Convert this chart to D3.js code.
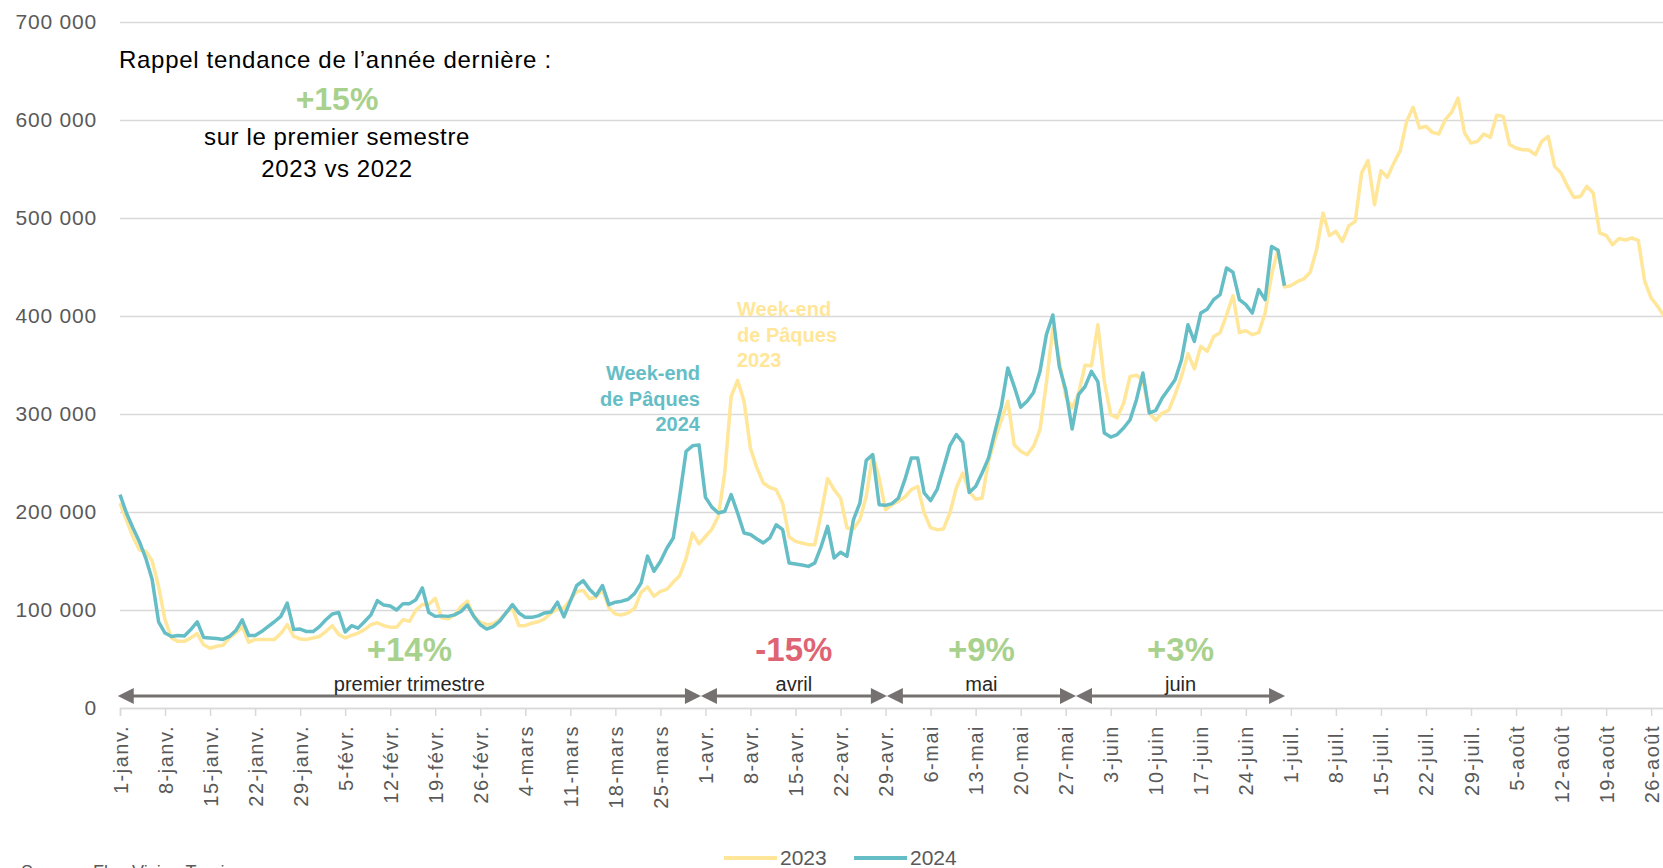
<!DOCTYPE html>
<html>
<head>
<meta charset="utf-8">
<script src="https://cdn.jsdelivr.net/npm/d3@7"></script>
<style>
  body { margin: 0; background: #fff; overflow: hidden; }
  text { font-family: "Liberation Sans", Arial, sans-serif; }
</style>
</head>
<body>
<script>

// visiteurs par jour (en milliers), jour 0 = 1er janvier
const visits2023 = [
  209, 192, 175, 161.5, 160, 150, 124, 90, 71.5, 68, 68, 71.5, 76, 64.5, 61, 63, 64, 71.5, 76.5, 83,
  67, 70, 70, 70, 70, 76, 85, 73, 70.5, 70, 71.5, 73, 78, 84, 75, 71.5, 74, 76.5, 80, 85,
  87, 84, 82.5, 82.5, 90, 88.5, 100, 105.5, 105.5, 112, 92, 91, 95, 103.5, 109, 93.5, 87.5, 85, 86, 90,
  97, 102, 84, 84, 86.5, 88, 91, 97, 101, 102, 110.5, 119, 120, 111.5, 113, 121, 102, 96, 95, 97,
  102, 118, 123.5, 114, 119, 121, 128.5, 135, 153, 178.5, 167.5, 175, 182.5, 195.6, 239.8, 318, 334.4, 313, 265, 245,
  229.6, 225, 222.8, 209, 174.5, 170, 168.4, 166.7, 166.7, 199, 234, 222.8, 214.3, 183.7, 182.7, 192, 216, 258.5, 234.7, 202.4,
  207.5, 210.9, 215.3, 222.8, 226, 199, 184, 182, 182.7, 199, 224.5, 239.8, 221, 213, 214.3, 251.7, 273.8, 294, 313, 268.7,
  262, 258.5, 267, 284, 331.6, 387.7, 355.4, 318, 306, 321, 349.7, 349.3, 391, 333.3, 299.3, 296, 311, 338.4, 339.5, 335,
  301, 293.5, 301, 303.7, 319.7, 338.4, 361.6, 346, 369, 364, 379, 383, 401, 420.7, 383, 385, 381, 383, 403, 442,
  467.7, 429.6, 431, 435, 437.8, 444.6, 467.7, 505, 482, 486.4, 476, 492, 496.6, 546, 558.5, 513.6, 548.3, 541.5, 556, 568.7,
  598.6, 613, 591.8, 593.5, 587.4, 585.7, 600.3, 608, 622.4, 586.7, 576.5, 578.2, 585.7, 582.3, 604.8, 603.7, 574.8, 571.4, 569.7, 569.4,
  564.6, 578.2, 583.3, 552.7, 546, 532.3, 521, 522, 532.3, 525.5, 484.7, 482.3, 472.8, 479, 477.6, 479.6, 477.2, 435.4, 418.4, 409.9,
  400
];

const visits2024 = [
  217.7, 199, 184, 170, 153, 131, 88, 76.5, 73, 74, 73.5, 80, 88, 72, 71.5, 71, 70, 73, 79, 90,
  74, 74, 78, 83, 88, 93.5, 107, 80, 80.5, 78, 78, 83, 90, 96, 97.5, 77.5, 84, 81.5, 88, 95,
  109.5, 105, 104, 100, 106.5, 106.5, 110.5, 122.5, 97.5, 93.5, 94, 93.5, 95, 98.5, 105, 93.5, 85, 80.5, 83, 88.5,
  97, 105.5, 97, 92.5, 92.5, 94, 97, 98, 108, 93, 109, 125, 130, 121, 114.5, 125, 105.5, 108, 109, 111,
  117, 127.5, 155, 139.5, 149.5, 163, 173.5, 216, 262, 267.5, 268.5, 215, 205, 199, 200.7, 217.7, 199, 178.6, 177, 172.5,
  168.4, 173.5, 187, 182, 148, 147, 146, 144.5, 148, 165, 185.4, 153, 159, 154.8, 192, 209, 252.7, 258.5, 207.5, 206.8,
  208.5, 214.3, 233, 255, 255, 219.4, 211.6, 222.8, 245, 267.7, 279, 271, 220, 226, 239.8, 255, 282, 307.8, 347, 328,
  307, 313, 322, 343.5, 381, 401, 348.6, 324.8, 284.7, 319.7, 328, 343.5, 333, 280.6, 276.5, 279, 285.7, 294, 314.6, 341.8,
  301, 303.7, 316.3, 325.5, 335, 355.4, 391, 374, 403, 407, 416.7, 421.8, 449, 444.6, 416.7, 411.6, 403, 426.9, 416.7, 471,
  467, 431
];

const tickLabels = ['1-janv.', '8-janv.', '15-janv.', '22-janv.', '29-janv.', '5-févr.', '12-févr.', '19-févr.', '26-févr.',
  '4-mars', '11-mars', '18-mars', '25-mars', '1-avr.', '8-avr.', '15-avr.', '22-avr.', '29-avr.', '6-mai', '13-mai',
  '20-mai', '27-mai', '3-juin', '10-juin', '17-juin', '24-juin', '1-juil.', '8-juil.', '15-juil.', '22-juil.', '29-juil.',
  '5-août', '12-août', '19-août', '26-août'];

const yTicks = [0, 100000, 200000, 300000, 400000, 500000, 600000, 700000];

const periodNames = ['premier trimestre', 'avril', 'mai', 'juin'];
const periodChange = ['+14%', '-15%', '+9%', '+3%'];

const seriesNames = ['2023', '2024'];

// couleurs
const yellow = '#ffe699';
const teal = '#65bdc6';
const green = '#a9d18e';
const red = '#de6474';
const grey = '#595959';

const svg = d3.select('body')
    .append('svg')
    .attr('width', 1663)
    .attr('height', 868);

const margin = {top: 22, right: 0, bottom: 160, left: 120};

const x = d3.scaleLinear()
    .domain([0, 240])
    .range([margin.left, 1664]);

const y = d3.scaleLinear()
    .domain([0, 700000])
    .range([708, margin.top]);

// grille horizontale + etiquettes Y
const yAxis = svg.append('g')
    .attr('transform', 'translate(' + margin.left + ',0)')
    .call(d3.axisLeft(y)
        .tickValues(yTicks)
        .tickSize(-(1663 - margin.left))
        .tickPadding(23)
        .tickFormat(d => d3.format(',')(d).replace(/,/g, ' ')));

yAxis.select('.domain').remove();
yAxis.selectAll('line').attr('stroke', '#d9d9d9').attr('stroke-width', 1.5);
yAxis.selectAll('text')
    .attr('fill', grey)
    .style('font-size', '21px')
    .style('letter-spacing', '0.8px');

// axe X
const xAxis = svg.append('g')
    .attr('transform', 'translate(0,' + y(0) + ')')
    .call(d3.axisBottom(x)
        .tickValues(d3.range(0, 239, 7))
        .tickSize(8)
        .tickFormat((d, i) => tickLabels[i]));

xAxis.select('.domain').attr('stroke', '#d9d9d9').attr('stroke-width', 1.5);
xAxis.selectAll('line').attr('stroke', '#d9d9d9').attr('stroke-width', 1.5);
xAxis.selectAll('text')
    .attr('fill', grey)
    .style('font-size', '20px')
    .style('letter-spacing', '1.5px')
    .attr('text-anchor', 'end')
    .attr('transform', 'rotate(-90)')
    .attr('x', -17)
    .attr('y', 0)
    .attr('dy', '0.35em')
    .attr('dx', 0);

// courbes
const line = d3.line()
    .x((d, i) => x(i))
    .y(d => y(d * 1000));

svg.append('path')
    .datum(visits2023)
    .attr('fill', 'none')
    .attr('stroke', yellow)
    .attr('stroke-width', 3.5)
    .attr('stroke-linejoin', 'round')
    .attr('d', line);

svg.append('path')
    .datum(visits2024)
    .attr('fill', 'none')
    .attr('stroke', teal)
    .attr('stroke-width', 3.5)
    .attr('stroke-linejoin', 'round')
    .attr('d', line);

// fleches des periodes (bornes en jours)
const periodBounds = [[-0.35, 90.3], [90.3, 119.2], [119.2, 148.6], [148.6, 181.1]];

const arrowY = 696;
const arrows = svg.append('g');

periodBounds.forEach(function(b, i) {
    const x1 = x(b[0]);
    const x2 = x(b[1]);
    const mid = (x1 + x2) / 2;

    arrows.append('line')
        .attr('x1', x1 + 12)
        .attr('x2', x2 - 12)
        .attr('y1', arrowY)
        .attr('y2', arrowY)
        .attr('stroke', '#767171')
        .attr('stroke-width', 3);

    arrows.append('path')
        .attr('d', 'M' + x1 + ',' + arrowY + ' L' + (x1 + 16) + ',' + (arrowY - 8) + ' L' + (x1 + 16) + ',' + (arrowY + 8) + ' Z')
        .attr('fill', '#767171');

    arrows.append('path')
        .attr('d', 'M' + x2 + ',' + arrowY + ' L' + (x2 - 16) + ',' + (arrowY - 8) + ' L' + (x2 - 16) + ',' + (arrowY + 8) + ' Z')
        .attr('fill', '#767171');

    arrows.append('text')
        .attr('x', mid)
        .attr('y', 691)
        .attr('text-anchor', 'middle')
        .attr('fill', '#262626')
        .style('font-size', '20px')
        .text(periodNames[i]);

    arrows.append('text')
        .attr('x', mid)
        .attr('y', 661)
        .attr('text-anchor', 'middle')
        .attr('fill', periodChange[i][0] == '-' ? red : green)
        .style('font-size', '33px')
        .style('font-weight', 'bold')
        .text(periodChange[i]);
});

// rappel annee derniere
const rappel = svg.append('g');

rappel.append('text')
    .attr('x', 119)
    .attr('y', 68)
    .attr('fill', '#000')
    .style('font-size', '24px')
    .style('letter-spacing', '0.7px')
    .text('Rappel tendance de l’année dernière :');

rappel.append('text')
    .attr('x', 337)
    .attr('y', 110)
    .attr('text-anchor', 'middle')
    .attr('fill', green)
    .style('font-size', '32px')
    .style('font-weight', 'bold')
    .text('+15%');

rappel.append('text')
    .attr('x', 337)
    .attr('y', 145)
    .attr('text-anchor', 'middle')
    .attr('fill', '#000')
    .style('font-size', '24px')
    .style('letter-spacing', '0.6px')
    .text('sur le premier semestre');

rappel.append('text')
    .attr('x', 337)
    .attr('y', 177)
    .attr('text-anchor', 'middle')
    .attr('fill', '#000')
    .style('font-size', '24px')
    .style('letter-spacing', '0.6px')
    .text('2023 vs 2022');

// week-ends de Paques
const paques2024 = ['Week-end', 'de Pâques', '2024'];
const paques2023 = ['Week-end', 'de Pâques', '2023'];

svg.append('g').selectAll('text')
    .data(paques2024)
    .enter().append('text')
    .attr('x', 700)
    .attr('y', (d, i) => 380 + i * 25.5)
    .attr('text-anchor', 'end')
    .attr('fill', teal)
    .style('font-size', '20px')
    .style('font-weight', 'bold')
    .text(d => d);

svg.append('g').selectAll('text')
    .data(paques2023)
    .enter().append('text')
    .attr('x', 737)
    .attr('y', (d, i) => 316 + i * 25.5)
    .attr('fill', yellow)
    .style('font-size', '20px')
    .style('font-weight', 'bold')
    .text(d => d);

// legende
const legend = svg.append('g');
const legendX = [724, 854];
const legendColors = [yellow, teal];

seriesNames.forEach(function(name, i) {
    legend.append('line')
        .attr('x1', legendX[i])
        .attr('x2', legendX[i] + 53)
        .attr('y1', 858)
        .attr('y2', 858)
        .attr('stroke', legendColors[i])
        .attr('stroke-width', 4);

    legend.append('text')
        .attr('x', legendX[i] + 56)
        .attr('y', 865)
        .attr('fill', grey)
        .style('font-size', '21px')
        .text(name);
});

// source (coupee en bas, comme sur l'original)
svg.append('text')
    .attr('x', 21)
    .attr('y', 878)
    .attr('fill', grey)
    .style('font-size', '18px')
    .text('Source : Flux Vision Tourisme');

</script>
</body>
</html>
